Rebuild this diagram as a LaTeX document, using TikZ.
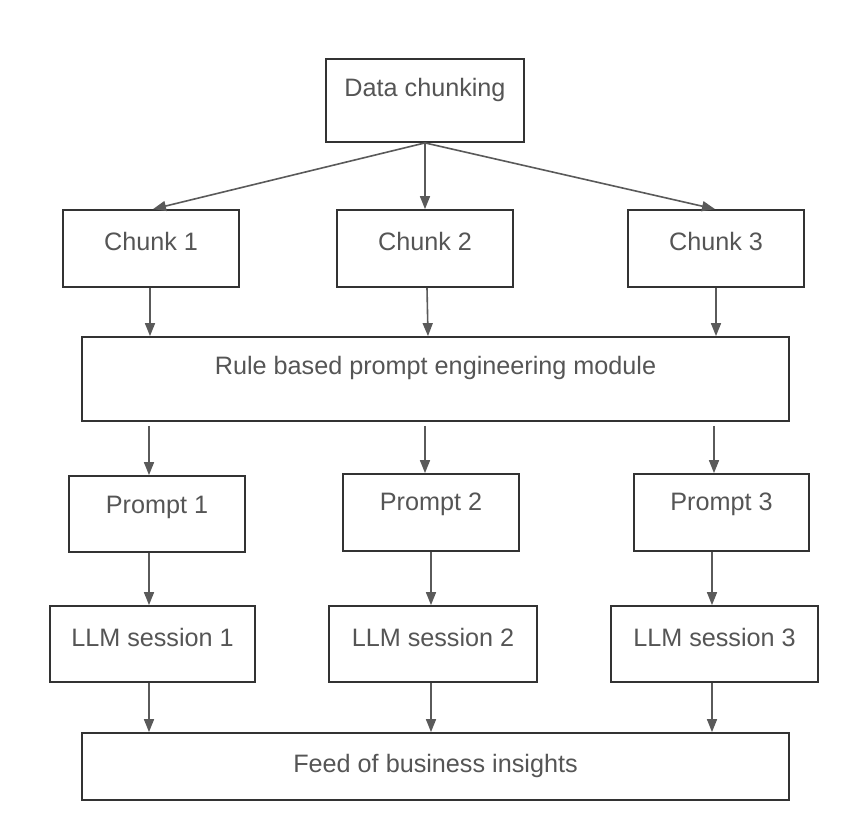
\documentclass[tikz,border=0pt]{standalone}
\usepackage{fontspec}
\setmainfont{Liberation Sans}
\usetikzlibrary{arrows.meta}
\definecolor{boxline}{HTML}{333333}
\definecolor{arrowc}{HTML}{5A5A5A}
\definecolor{textc}{HTML}{555555}
\begin{document}
\begin{tikzpicture}[x=1pt,y=-1pt,
  box/.style={draw=boxline,line width=1.8pt,rectangle,inner sep=0pt,anchor=center},
  txt/.style={text=textc,inner sep=0pt,anchor=center,font=\fontsize{25.2}{30}\selectfont},
  arr/.style={draw=arrowc,line width=1.6pt,-{Triangle[length=13pt,width=10pt]}}]
\fill[white] (0,0) rectangle (864,825);
\useasboundingbox (0,0) rectangle (864,825);
% boxes
\node[box,minimum width=198pt,minimum height=83pt] (dc) at (425,100.5) {};
\node[box,minimum width=176pt,minimum height=77pt] (c1) at (151,248.5) {};
\node[box,minimum width=176pt,minimum height=77pt] (c2) at (425,248.5) {};
\node[box,minimum width=176pt,minimum height=77pt] (c3) at (716,248.5) {};
\node[box,minimum width=707pt,minimum height=84pt] (rule) at (435.5,379) {};
\node[box,minimum width=176pt,minimum height=76pt] (p1) at (157,514) {};
\node[box,minimum width=176pt,minimum height=77pt] (p2) at (431,512.5) {};
\node[box,minimum width=175pt,minimum height=77pt] (p3) at (721.5,512.5) {};
\node[box,minimum width=205pt,minimum height=76pt] (l1) at (152.5,644) {};
\node[box,minimum width=208pt,minimum height=76pt] (l2) at (433,644) {};
\node[box,minimum width=207pt,minimum height=76pt] (l3) at (714.5,644) {};
\node[box,minimum width=707pt,minimum height=67pt] (feed) at (435.5,766.5) {};
% texts
\node[txt] (dct) at (425,90) {Data chunking};
\node[txt] (c1t) at (151,241) {Chunk 1};
\node[txt] (c2t) at (425,241) {Chunk 2};
\node[txt] (c3t) at (716,241) {Chunk 3};
\node[txt] (rulet) at (435.5,368) {Rule based prompt engineering module};
\node[txt] (p1t) at (157,507) {Prompt 1};
\node[txt] (p2t) at (431,504) {Prompt 2};
\node[txt] (p3t) at (721.5,504) {Prompt 3};
\node[txt] (l1t) at (152.5,637) {LLM session 1};
\node[txt] (l2t) at (433,637) {LLM session 2};
\node[txt] (l3t) at (714.5,637) {LLM session 3};
\node[txt] (feedt) at (435.5,766) {Feed of business insights};
% column x positions
\coordinate (xa) at (149,0);
\coordinate (xb) at (428,0);
\coordinate (xc) at (425,0);
\coordinate (xd) at (431,0);
\coordinate (xe) at (714,0);
\coordinate (xf) at (712,0);
\coordinate (xg) at (150,0);
% connectors
\draw[arr] (dc.south) -- ([xshift=2pt]c1.north);
\draw[arr] (dc.south) -- (c2.north);
\draw[arr] (dc.south) -- ([xshift=-1pt]c3.north);
\draw[arr] (c1.south -| xg) -- (rule.north -| xg);
\draw[arr] ([xshift=2pt]c2.south) -- (rule.north -| xb);
\draw[arr] (c3.south) -- (rule.north -| c3.south);
\draw[arr] ([yshift=-4pt]rule.south -| xa) -- (p1.north -| xa);
\draw[arr] ([yshift=-4pt]rule.south -| xc) -- (p2.north -| xc);
\draw[arr] ([yshift=-4pt]rule.south -| xe) -- (p3.north -| xe);
\draw[arr] (p1.south -| xa) -- (l1.north -| xa);
\draw[arr] (p2.south -| xd) -- (l2.north -| xd);
\draw[arr] (p3.south -| xf) -- (l3.north -| xf);
\draw[arr] (l1.south -| xa) -- (feed.north -| xa);
\draw[arr] (l2.south -| xd) -- (feed.north -| xd);
\draw[arr] (l3.south -| xf) -- (feed.north -| xf);
\end{tikzpicture}
\end{document}
